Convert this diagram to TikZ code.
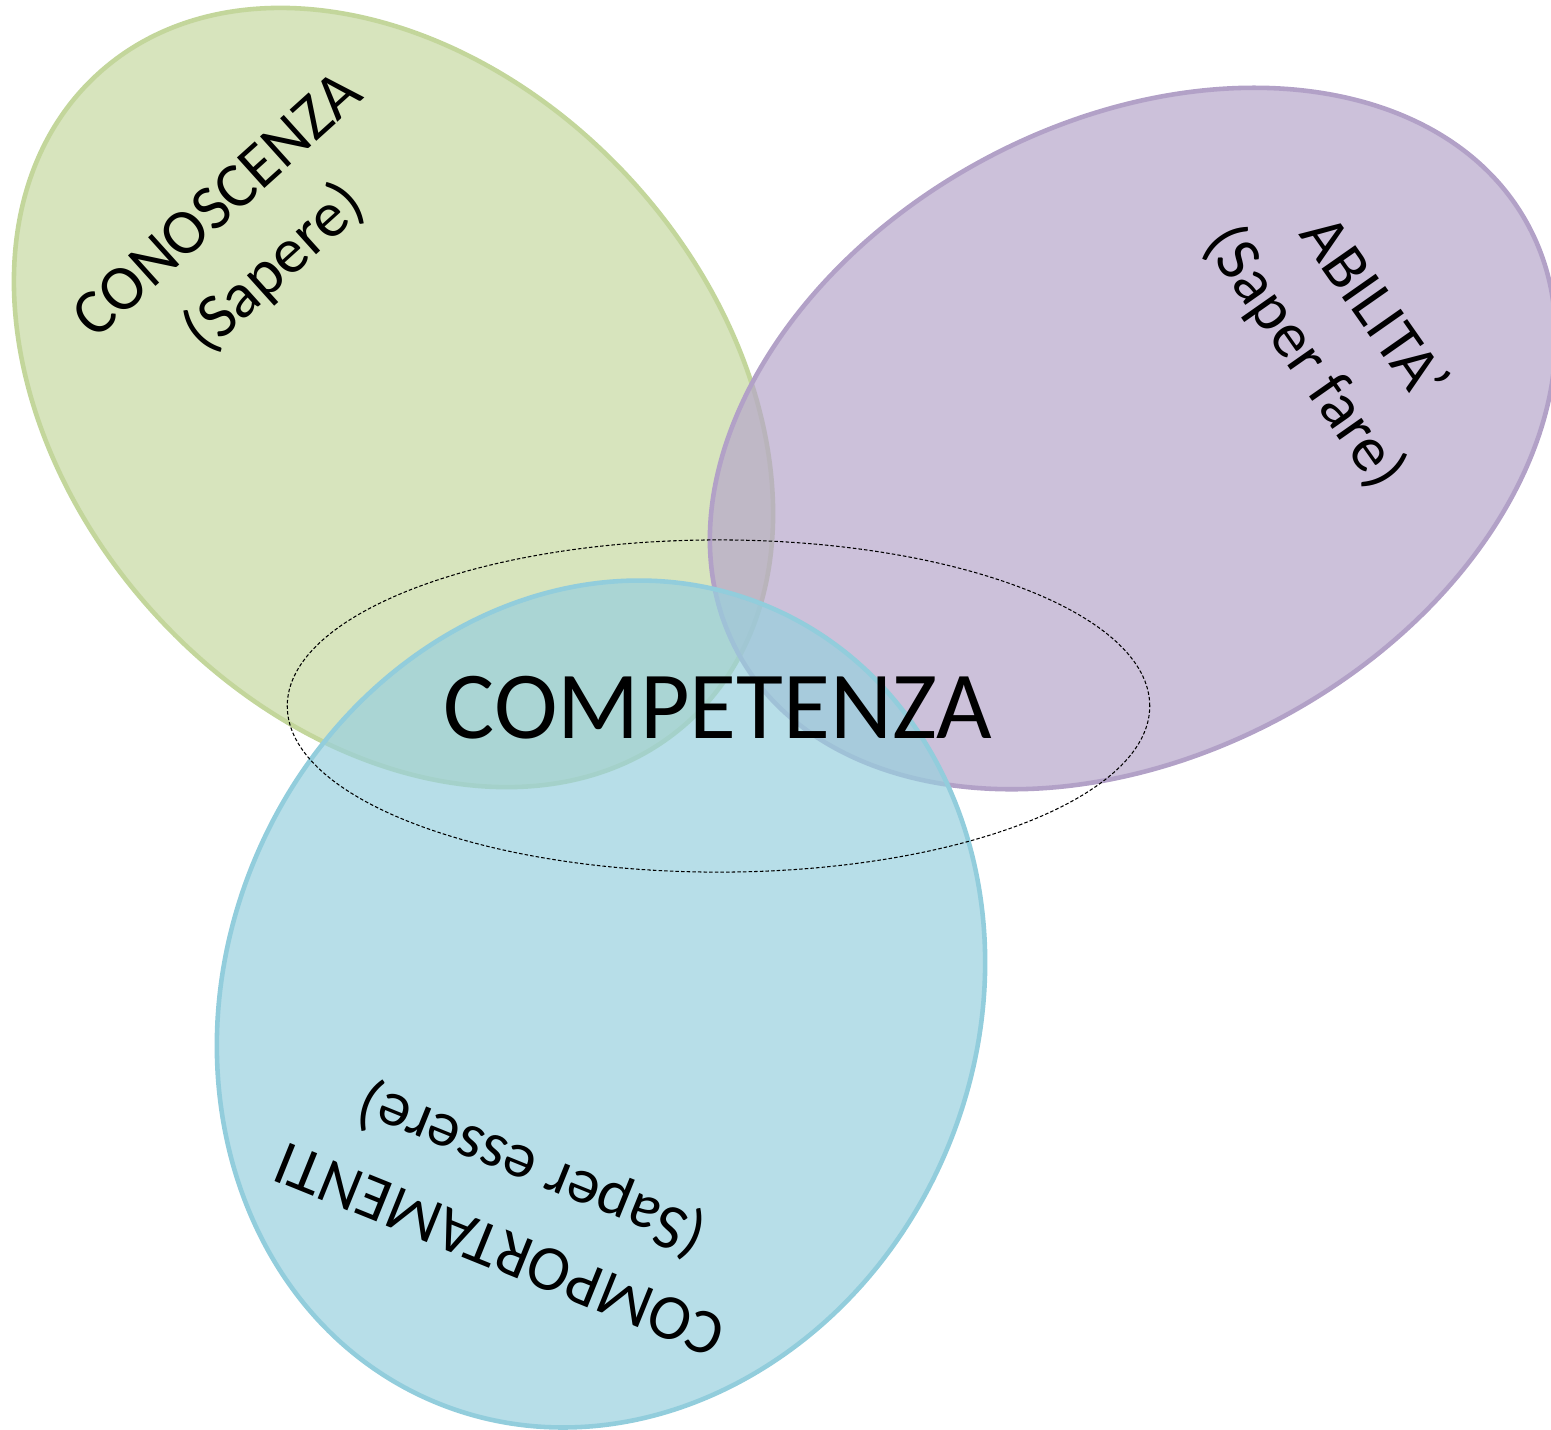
\documentclass[tikz,border=0pt]{standalone}
\usepackage{fontspec}
\setmainfont{Carlito}
\usetikzlibrary{shapes.geometric}

\definecolor{greenfill}{RGB}{198,216,161}
\definecolor{greenline}{RGB}{195,214,155}
\definecolor{violetfill}{RGB}{182,166,202}
\definecolor{violetline}{RGB}{178,161,199}
\definecolor{bluefill}{RGB}{152,208,222}
\definecolor{blueline}{RGB}{146,205,220}

\begin{document}
\begin{tikzpicture}
      [x=0.01cm,y=-0.01cm,
       set node/.style={ellipse,inner sep=0pt,line width=1.3pt,fill opacity=0.7},
       set label/.style={align=center,font=\fontsize{18.2}{23.9}\selectfont}]
        \useasboundingbox (0,0) rectangle (1551,1429);

        \node[set node,draw=greenline,fill=greenfill,minimum width=8.76cm,minimum height=6.44cm,rotate=-47.5] (conoscenza) at (393.5,397.5) {};
        \node[set node,draw=violetline,fill=violetfill,minimum width=8.98cm,minimum height=6.32cm,rotate=28.4] (abilita) at (1132.8,438.5) {};
        \node[set node,draw=blueline,fill=bluefill,minimum width=7.50cm,minimum height=8.62cm,rotate=-22.7] (comportamenti) at (601,1004) {};
        \node[ellipse,inner sep=0pt,draw,line width=0.3pt,dash pattern=on 1pt off 0.6pt,minimum width=8.62cm,minimum height=3.32cm] (competenza) at (718.5,706) {};

        \node[set label,rotate=42] (sapere) at (248,239) {CONOSCENZA\\(Sapere)};
        \node[set label,rotate=-55] (saperfare) at (1338,334) {ABILITA’\\(Saper fare)};
        \node[set label,rotate=158] (sapereessere) at (517,1206) {COMPORTAMENTI\\(Saper essere)};
        \node[font=\fontsize{27.3}{33}\selectfont] (titolo) at (718,708) {COMPETENZA};

      \end{tikzpicture}
\end{document}
